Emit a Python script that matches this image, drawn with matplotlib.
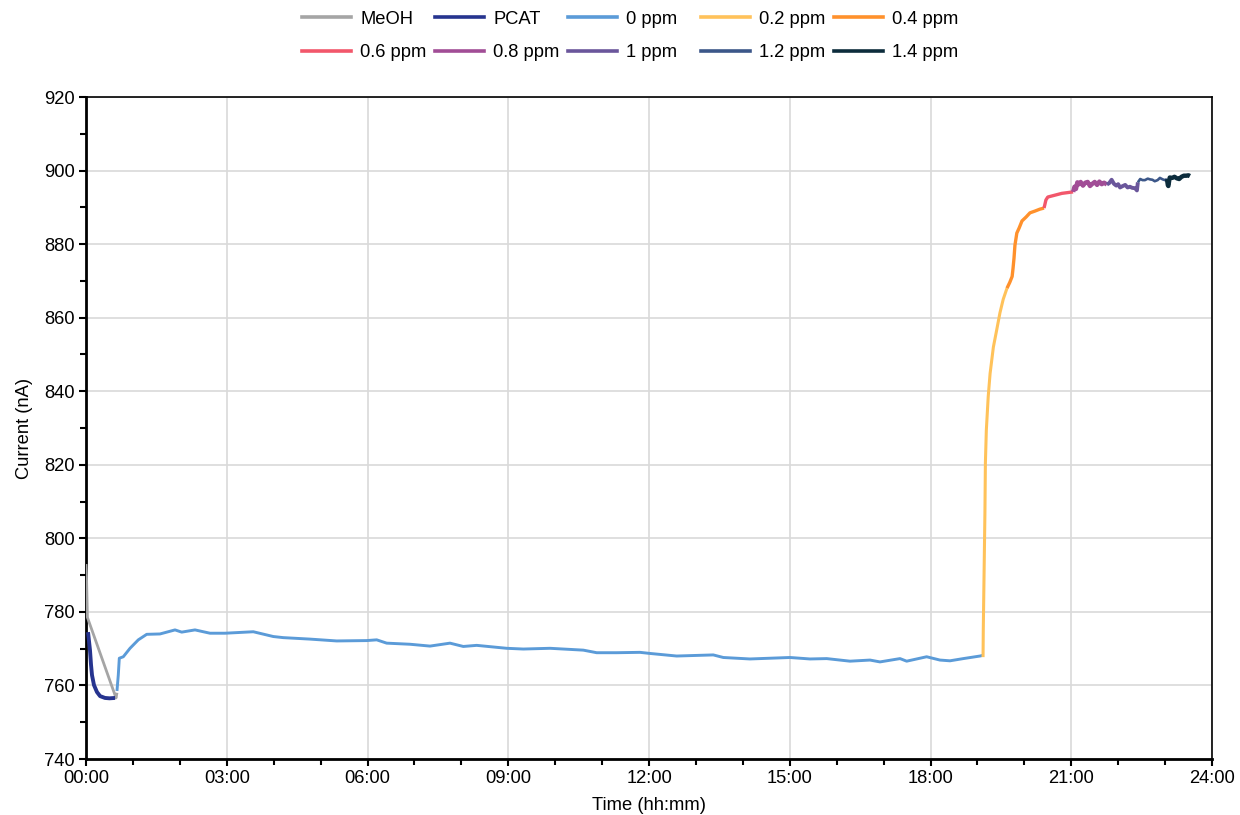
import matplotlib
matplotlib.use("Agg")
import matplotlib.pyplot as plt
from matplotlib.lines import Line2D
from matplotlib.ticker import MultipleLocator, FuncFormatter

plt.rcParams['font.family'] = ['Liberation Sans', 'DejaVu Sans']

# ---- data (time in hours, current in nA) ----
meoh_t = [0.0, 0.01, 0.03, 0.64, 0.66]
meoh_v = [793.0, 790.0, 778.5, 756.6, 758.0]

pcat_t = [0.043, 0.06, 0.085, 0.107, 0.128, 0.17, 0.234, 0.30, 0.405, 0.50, 0.62]
pcat_v = [774.5, 772.5, 769.6, 765.6, 762.8, 760.1, 758.2, 757.1, 756.6, 756.5, 756.6]

p0_t = [0.66, 0.688, 0.71, 0.795, 0.938, 1.115, 1.294, 1.577, 1.897, 2.04, 2.323,
        2.643, 2.963, 3.566, 3.992, 4.205, 4.774, 5.343, 5.983, 6.196, 6.409,
        6.906, 7.332, 7.758, 8.042, 8.327, 8.967, 9.321, 9.89, 10.316, 10.6,
        10.885, 11.311, 11.808, 12.021, 12.59, 13.37, 13.584, 14.152, 15.005,
        15.431, 15.787, 16.284, 16.71, 16.923, 17.35, 17.492, 17.918, 18.202,
        18.415, 18.699, 19.055, 19.12]
p0_v = [758.5, 762.8, 767.4, 767.8, 770.1, 772.4, 773.9, 774.0, 775.1, 774.5, 775.1,
        774.2, 774.2, 774.6, 773.3, 773.0, 772.6, 772.1, 772.2, 772.4, 771.5,
        771.2, 770.7, 771.5, 770.6, 770.9, 770.1, 769.9, 770.1, 769.8, 769.6,
        768.9, 768.9, 769.0, 768.7, 768.0, 768.3, 767.6, 767.2, 767.6,
        767.2, 767.3, 766.6, 766.9, 766.4, 767.3, 766.6, 767.8, 766.9,
        766.7, 767.3, 768.0, 768.2]

p02_t = [19.12, 19.125, 19.14, 19.16, 19.17, 19.19, 19.23, 19.27, 19.34, 19.41, 19.48, 19.55, 19.63]
p02_v = [767.7, 775.1, 788.7, 806.9, 820.5, 829.4, 838.5, 844.8, 852.0, 856.6, 861.3, 865.0, 868.0]

p04_t = [19.63, 19.69, 19.74, 19.76, 19.78, 19.80, 19.84, 19.89, 19.95, 20.04, 20.12, 20.23, 20.33, 20.42]
p04_v = [868.0, 869.6, 871.2, 873.5, 876.2, 879.7, 883.0, 884.4, 886.3, 887.4, 888.5, 889.0, 889.5, 889.8]

p06_t = [20.42, 20.46, 20.50, 20.65, 20.80, 21.04]
p06_v = [889.8, 892.0, 892.8, 893.3, 893.8, 894.2]

p08_t = [21.04, 21.07, 21.10, 21.13, 21.15, 21.20, 21.25, 21.30, 21.35, 21.40, 21.45, 21.50, 21.55, 21.60, 21.65, 21.70, 21.76]
p08_v = [894.2, 895.6, 895.0, 896.8, 896.2, 896.9, 895.9, 896.7, 896.9, 895.8, 896.4, 896.9, 896.1, 897.0, 896.3, 896.7, 896.2]

p1_t = [21.76, 21.81, 21.86, 21.91, 21.96, 22.00, 22.04, 22.10, 22.15, 22.20, 22.25, 22.30, 22.36, 22.40, 22.42]
p1_v = [896.2, 896.6, 897.5, 896.4, 895.9, 896.3, 895.4, 895.8, 896.1, 895.4, 895.6, 895.3, 895.2, 894.6, 896.8]

p12_t = [22.42, 22.47, 22.52, 22.57, 22.63, 22.68, 22.73, 22.78, 22.84, 22.89, 22.95, 23.00, 23.04]
p12_v = [896.8, 897.7, 897.4, 897.4, 897.8, 897.6, 897.5, 897.1, 897.4, 898.0, 897.6, 897.4, 897.7]

p14_t = [23.04, 23.06, 23.07, 23.09, 23.10, 23.15, 23.20, 23.25, 23.30, 23.35, 23.40, 23.45, 23.50, 23.53]
p14_v = [897.7, 896.0, 895.8, 897.5, 898.1, 898.0, 898.3, 897.9, 897.7, 898.3, 898.6, 898.6, 898.7, 898.5]

series = [
    ("MeOH", meoh_t, meoh_v, "#A5A5A5", 2.0),
    ("PCAT", pcat_t, pcat_v, "#26348F", 2.8),
    ("0 ppm", p0_t, p0_v, "#5B9BD8", 2.1),
    ("0.2 ppm", p02_t, p02_v, "#FFC25A", 2.2),
    ("0.4 ppm", p04_t, p04_v, "#FF912C", 2.4),
    ("0.6 ppm", p06_t, p06_v, "#F2576B", 2.4),
    ("0.8 ppm", p08_t, p08_v, "#A14D96", 3.2),
    ("1 ppm", p1_t, p1_v, "#6A569B", 2.8),
    ("1.2 ppm", p12_t, p12_v, "#3C5789", 1.9),
    ("1.4 ppm", p14_t, p14_v, "#0C2C3C", 3.2),
]

FS = 13.2
fig = plt.figure(figsize=(12.4, 8.15), dpi=100)
ax = fig.add_axes([86/1240, 56/815, (1212-86)/1240, (759-97)/815])

for name, t, v, c, lw in series:
    ax.plot(t, v, color=c, lw=lw, solid_capstyle='butt', zorder=3)

ax.set_xlim(0, 24)
ax.set_ylim(740, 920)
ax.xaxis.set_major_locator(MultipleLocator(3))
ax.xaxis.set_minor_locator(MultipleLocator(1))
ax.yaxis.set_major_locator(MultipleLocator(20))
ax.yaxis.set_minor_locator(MultipleLocator(10))
ax.xaxis.set_major_formatter(FuncFormatter(lambda x, p: "%02d:00" % int(round(x))))
ax.grid(True, which='major', color='#D9D9D9', lw=1.2, zorder=0)
ax.set_axisbelow(True)

for s in ['left', 'bottom']:
    ax.spines[s].set_linewidth(2.0)
for s in ['top', 'right']:
    ax.spines[s].set_linewidth(1.2)
ax.tick_params(which='major', direction='out', length=5, width=1.5, labelsize=FS, colors='black', pad=3)
ax.tick_params(which='minor', direction='out', length=4, width=1.5)

ax.set_xlabel("Time (hh:mm)", fontsize=FS, labelpad=7)
ax.set_ylabel("Current (nA)", fontsize=FS, labelpad=8)

# legend: 5 fixed-width columns, 2 rows
cols_x = [302, 435, 568, 701, 834]
order = [(0, 5), (1, 6), (2, 7), (3, 8), (4, 9)]
for cx, (i, j) in zip(cols_x, order):
    handles = []
    for k in (i, j):
        name, t, v, c, lw = series[k]
        handles.append(Line2D([0], [0], color=c, lw=2.6, label=name))
    fig.legend(handles=handles, loc='center left', bbox_to_anchor=(cx/1240, 1 - 36/815),
               frameon=False, fontsize=FS, ncol=1, borderpad=0, borderaxespad=0,
               handlelength=2.68, handletextpad=0.5, labelspacing=0.92)

fig.savefig("out.png", dpi=100)
